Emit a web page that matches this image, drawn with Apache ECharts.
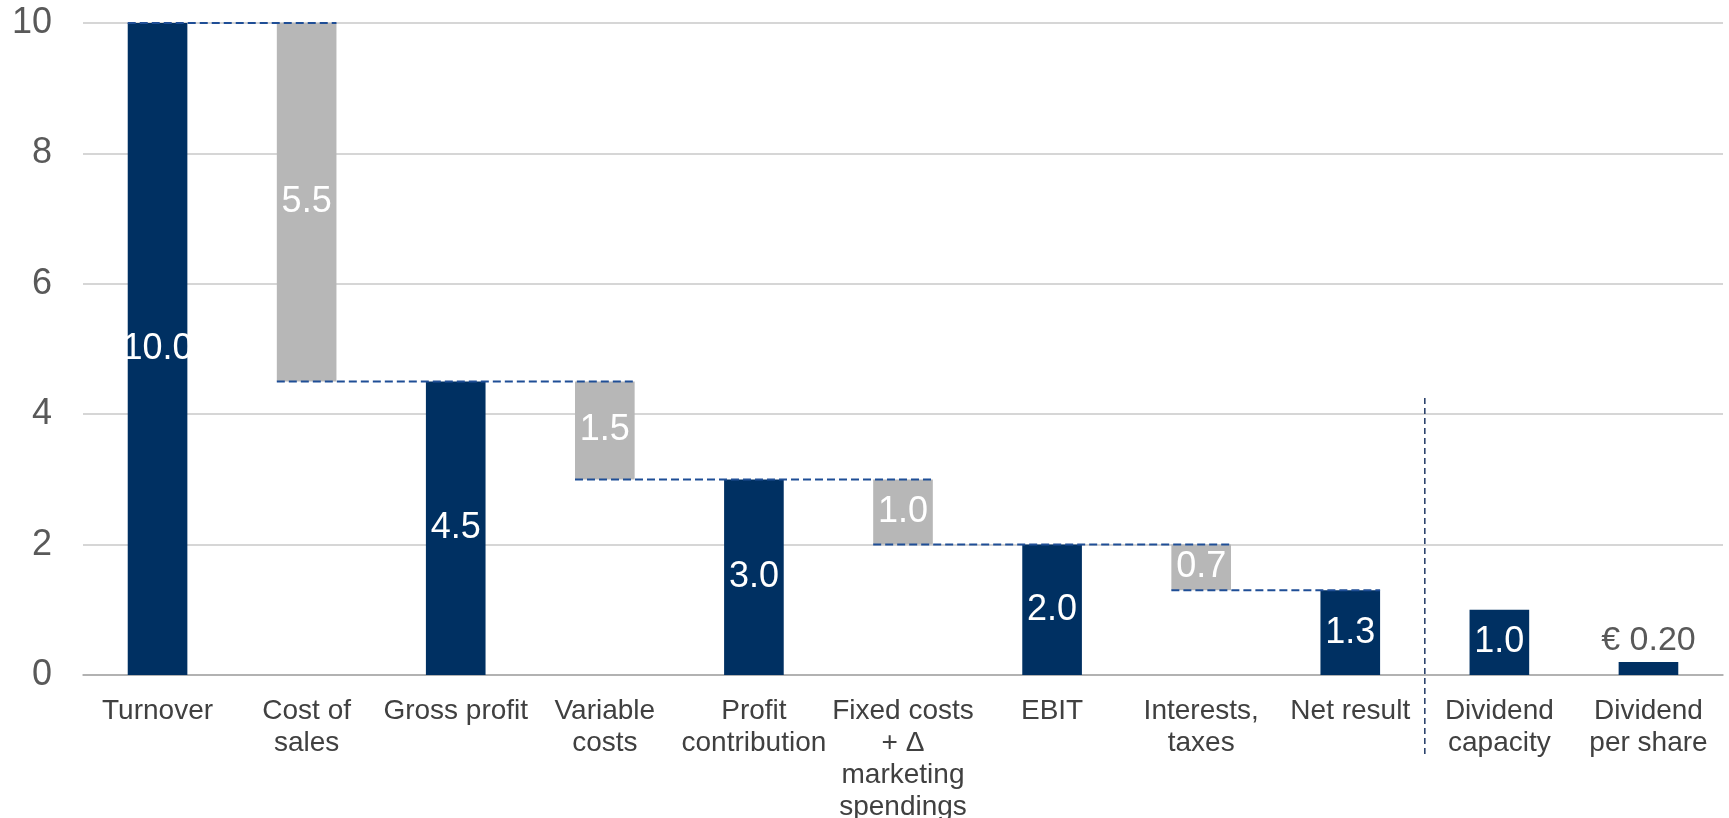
<!DOCTYPE html>
<html lang="en" style="height: 100%">
<head>
  <meta charset="utf-8">
</head>
<body style="height: 100%; margin: 0; background: #fff">
  <div id="container" style="height: 100%"></div>
  <script type="text/javascript" src="https://cdn.jsdelivr.net/npm/echarts@6/dist/echarts.min.js"></script>
  <script type="text/javascript">
const categories = [
  'Turnover', 'Cost of\nsales', 'Gross profit', 'Variable\ncosts', 'Profit\ncontribution',
  'Fixed costs\n+ Δ\nmarketing\nspendings', 'EBIT', 'Interests,\ntaxes', 'Net result',
  'Dividend\ncapacity', 'Dividend\nper share'
];
// invisible base of each floating bar
const baseValues = [0, 4.5, 0, 3.0, 0, 2.0, 0, 1.3, 0, 0, 0];
// visible height of each bar
const barValues = [10.0, 5.5, 4.5, 1.5, 3.0, 1.0, 2.0, 0.7, 1.3, 1.0, 0.2];
// 'total' = navy, 'delta' = grey
const barKinds = ['total', 'delta', 'total', 'delta', 'total', 'delta', 'total', 'delta', 'total', 'total', 'total'];
const barLabels = ['10.0', '5.5', '4.5', '1.5', '3.0', '1.0', '2.0', '0.7', '1.3', '1.0', '€ 0.20'];
// dashed connectors: [from category, to category, level]
const connectors = [[0, 1, 10], [1, 3, 4.5], [3, 5, 3.0], [5, 7, 2.0], [7, 8, 1.3]];
// vertical separator between Net result and Dividend capacity, top level
const separator = [[8, 9, 4.25]];

const NAVY = '#003062';
const GREY = '#b7b7b7';
const FONT = '"Liberation Sans", Arial, sans-serif';

var dom = document.getElementById('container');
var myChart = echarts.init(dom, null, { renderer: 'canvas' });

const barData = barValues.map((v, i) => {
  const outside = i === barValues.length - 1;
  return {
    value: v,
    itemStyle: { color: barKinds[i] === 'total' ? NAVY : GREY },
    label: outside
      ? { position: 'top', color: '#595959', distance: 4, fontSize: 34 }
      : { position: 'inside', color: '#fff' }
  };
});

var option = {
  animation: false,
  grid: { left: 83, right: 6, top: 23, bottom: 143, containLabel: false, outerBoundsMode: 'none' },
  xAxis: {
    type: 'category',
    data: categories,
    axisTick: { show: false },
    axisLine: { lineStyle: { color: '#a6a6a6', width: 1.5 } },
    axisLabel: {
      interval: 0,
      margin: 20,
      color: '#404040',
      fontFamily: FONT,
      fontSize: 28,
      lineHeight: 32
    }
  },
  yAxis: {
    type: 'value',
    min: 0,
    max: 10,
    interval: 2,
    axisLine: { show: false },
    axisTick: { show: false },
    axisLabel: { margin: 31, color: '#595959', fontFamily: FONT, fontSize: 36 },
    splitLine: { lineStyle: { color: '#c8c8c8', width: 1.5 } }
  },
  series: [
    {
      type: 'bar',
      stack: 'w',
      barWidth: '40%',
      silent: true,
      itemStyle: { color: 'transparent' },
      data: baseValues
    },
    {
      type: 'bar',
      stack: 'w',
      barWidth: '40%',
      data: barData,
      label: {
        show: true,
        fontFamily: FONT,
        fontSize: 36,
        formatter: (p) => barLabels[p.dataIndex]
      },
      z: 2
    },
    {
      type: 'custom',
      z: 3,
      clip: false,
      encode: { x: [0, 1], y: 2 },
      data: connectors,
      renderItem: (params, api) => {
        const a = api.coord([api.value(0), api.value(2)]);
        const b = api.coord([api.value(1), api.value(2)]);
        const half = api.size([1, 0])[0] * 0.2;
        return {
          type: 'line',
          shape: { x1: a[0] - half, y1: a[1], x2: b[0] + half, y2: b[1] },
          style: { stroke: '#1f4e96', lineWidth: 2, lineDash: [8, 4] }
        };
      }
    },
    {
      type: 'custom',
      z: 3,
      clip: false,
      encode: { x: [0, 1], y: 2 },
      data: separator,
      renderItem: (params, api) => {
        const a = api.coord([api.value(0), api.value(2)]);
        const b = api.coord([api.value(1), 0]);
        const x = (a[0] + b[0]) / 2;
        return {
          type: 'line',
          shape: { x1: x, y1: a[1], x2: x, y2: b[1] + 80 },
          style: { stroke: '#1f3864', lineWidth: 1.5, lineDash: [6, 4] }
        };
      }
    }
  ]
};

myChart.setOption(option);
window.addEventListener('resize', myChart.resize);
  </script>
</body>
</html>
